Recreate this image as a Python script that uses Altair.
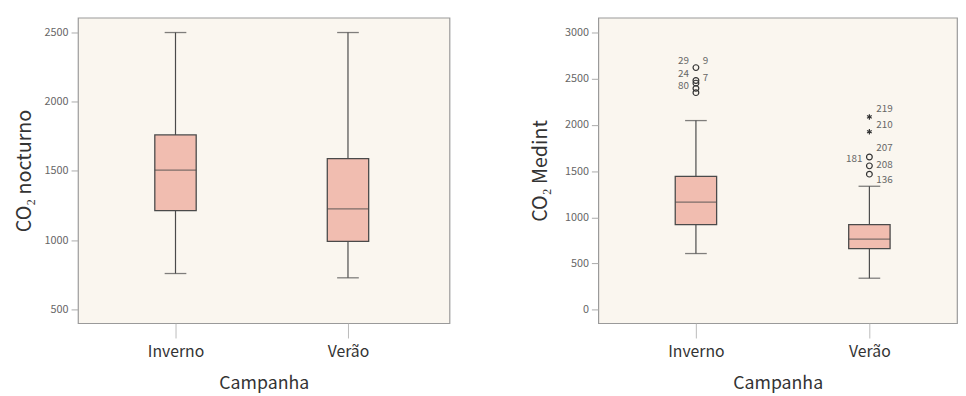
import altair as alt
import pandas as pd

campaigns = ["Inverno", "Verão"]

# Panel 1: CO2 nocturno
noct_low = [759, 728]
noct_q1 = [1214, 991]
noct_med = [1506, 1226]
noct_q3 = [1760, 1589]
noct_high = [2500, 2500]

# Panel 2: CO2 Medint
med_low = [608, 341]
med_q1 = [920, 661]
med_med = [1165, 764]
med_q3 = [1443, 920]
med_high = [2047, 1336]

out_camp = ["Inverno", "Inverno", "Inverno", "Inverno", "Inverno", "Verão", "Verão", "Verão"]
out_vals = [2620, 2480, 2452, 2395, 2349, 1653, 1557, 1467]
ext_camp = ["Verão", "Verão"]
ext_vals = [2086, 1926]

lab_camp = ["Inverno", "Inverno", "Inverno", "Inverno", "Inverno", "Verão", "Verão", "Verão", "Verão", "Verão", "Verão"]
lab_text = ["29", "9", "24", "7", "80", "219", "210", "207", "181", "208", "136"]
lab_vals = [2693, 2693, 2555, 2506, 2416, 2171, 2000, 1745, 1627, 1567, 1400]
lab_side = ["L", "R", "L", "R", "L", "R", "R", "R", "L", "R", "R"]

FONT = "Noto Sans CJK KR"
BOX_FILL = "#F1BDB0"
LINE = "#4a4a4a"


def panel(low, q1, med, q3, high, ytitle, domain, ticks, width, pad, align, title_pad,
          outliers=None, extremes=None, labels=None):
    df = pd.DataFrame({"Campanha": campaigns, "lo": low, "q1": q1, "med": med, "q3": q3, "hi": high})
    xs = alt.X("Campanha:N",
               scale=alt.Scale(type="point", domain=campaigns, padding=pad, align=align),
               axis=alt.Axis(title="Campanha", labelAngle=0, labelFontSize=16, labelColor="#333",
                             titleFontSize=18, titleFontWeight="normal", titleColor="#333",
                             tickSize=15, tickColor="#bbb", domain=False, labelPadding=6,
                             titlePadding=15, labelFont=FONT, titleFont=FONT))
    yscale = alt.Scale(domain=domain, nice=False, zero=False)
    yax = alt.Axis(title=ytitle, values=ticks, format="d", grid=False, domain=False, tickSize=7,
                   tickColor="#aaa", labelFontSize=11, labelColor="#666", labelPadding=3,
                   titleFontSize=20, titleFontWeight="normal", titleColor="#333",
                   titlePadding=title_pad, labelFont=FONT, titleFont=FONT)
    base = alt.Chart(df)
    whisk = base.mark_rule(color=LINE, strokeWidth=1.2).encode(
        x=xs, y=alt.Y("lo:Q", scale=yscale, axis=yax), y2="hi:Q")
    box = base.mark_bar(size=42, fill=BOX_FILL, stroke=LINE, strokeWidth=1.3).encode(
        x=xs, y=alt.Y("q1:Q", scale=yscale), y2="q3:Q")
    median = base.mark_tick(size=42, thickness=1.3, color=LINE).encode(
        x=xs, y=alt.Y("med:Q", scale=yscale))
    cap_lo = base.mark_tick(size=22, thickness=1.3, color=LINE).encode(
        x=xs, y=alt.Y("lo:Q", scale=yscale))
    cap_hi = base.mark_tick(size=22, thickness=1.3, color=LINE).encode(
        x=xs, y=alt.Y("hi:Q", scale=yscale))
    layers = [whisk, box, median, cap_lo, cap_hi]
    if outliers is not None:
        odf = pd.DataFrame({"Campanha": outliers[0], "v": outliers[1]})
        layers.append(alt.Chart(odf).mark_point(shape="circle", filled=False, size=34,
                                                 color="#333", strokeWidth=1.2, opacity=1).encode(
            x=xs, y=alt.Y("v:Q", scale=yscale)))
    if extremes is not None:
        edf = pd.DataFrame({"Campanha": extremes[0], "v": extremes[1]})
        layers.append(alt.Chart(edf).mark_point(
            shape="M0,-1L0,1M-0.87,-0.5L0.87,0.5M-0.87,0.5L0.87,-0.5",
            filled=False, size=30, color="#333", strokeWidth=1.2, opacity=1).encode(
            x=xs, y=alt.Y("v:Q", scale=yscale)))
    if labels is not None:
        ldf = pd.DataFrame({"Campanha": labels[0], "t": labels[1], "v": labels[2], "s": labels[3]})
        for side, al, dx in (("L", "right", -7), ("R", "left", 7)):
            layers.append(alt.Chart(ldf[ldf.s == side]).mark_text(
                align=al, dx=dx, baseline="middle", fontSize=10, color="#666", font=FONT).encode(
                x=xs, y=alt.Y("v:Q", scale=yscale), text="t:N"))
    return alt.layer(*layers).properties(width=width, height=310)


left = panel(noct_low, noct_q1, noct_med, noct_q3, noct_high, "CO₂ nocturno",
             [400, 2607], [500, 1000, 1500, 2000, 2500], 377, 0.577, 0.49, 10)
right = panel(med_low, med_q1, med_med, med_q3, med_high, "CO₂ Medint",
              [-146, 3160], [0, 500, 1000, 1500, 2000, 2500, 3000], 364, 0.534, 0.527, 14,
              outliers=(out_camp, out_vals), extremes=(ext_camp, ext_vals),
              labels=(lab_camp, lab_text, lab_vals, lab_side))

chart = alt.hconcat(left, right, spacing=80).properties(
    padding={"left": 5, "top": 6, "right": 0, "bottom": 0}
).configure(
    font=FONT, background="white",
    view=alt.ViewConfig(stroke="#9a9a9a", fill="#FAF6EF", strokeWidth=1.2),
)

chart.save("out.html", embed_options={"renderer": "svg", "actions": False})
